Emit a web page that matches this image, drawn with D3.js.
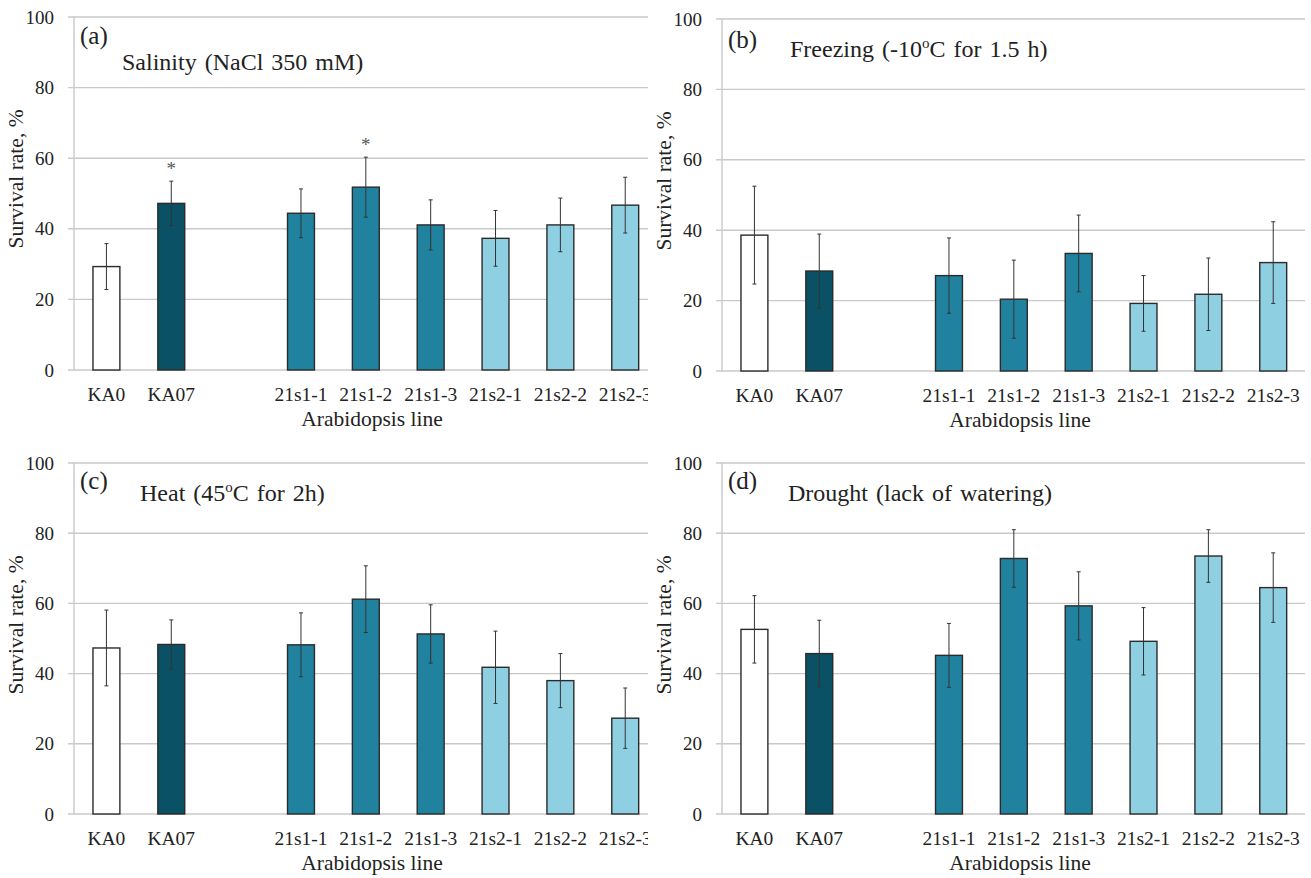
<!DOCTYPE html>
<html>
<head>
<meta charset="utf-8">
<script src="https://cdnjs.cloudflare.com/ajax/libs/d3/7.8.5/d3.min.js"></script>
<style>
  body { margin: 0; background: #fff; }
  svg text { font-family: "Liberation Serif", "Times New Roman", serif; fill: #222; }
</style>
</head>
<body>
<svg id="chart" width="1311" height="878"></svg>
<script>
// x slots, the empty one makes the gap after the controls
var slots = ['KA0', 'KA07', 'gap', '21s1-1', '21s1-2', '21s1-3', '21s2-1', '21s2-2', '21s2-3'];
var lines = ['KA0', 'KA07', '21s1-1', '21s1-2', '21s1-3', '21s2-1', '21s2-2', '21s2-3'];
var lineGroup = ['ctrl', 'ka07', 's1', 's1', 's1', 's2', 's2', 's2'];
var yTicks = [0, 20, 40, 60, 80, 100];

var salinityMean = [29.3, 47.2, 44.4, 51.8, 41.1, 37.3, 41.1, 46.7];
var salinityErr  = [6.5, 6.3, 6.9, 8.5, 7.1, 7.9, 7.6, 7.9];
var salinitySig  = [false, true, false, true, false, false, false, false];

var freezingMean = [38.6, 28.4, 27.1, 20.4, 33.4, 19.2, 21.8, 30.8];
var freezingErr  = [13.9, 10.5, 10.7, 11.1, 10.9, 7.9, 10.3, 11.6];

var heatMean = [47.3, 48.3, 48.2, 61.2, 51.3, 41.8, 38.0, 27.3];
var heatErr  = [10.8, 7.0, 9.1, 9.5, 8.3, 10.3, 7.7, 8.6];

var droughtMean = [52.6, 45.7, 45.2, 72.8, 59.3, 49.2, 73.5, 64.5];
var droughtErr  = [9.6, 9.5, 9.1, 8.2, 9.7, 9.6, 7.5, 9.9];

var fillColor = { ctrl: '#ffffff', ka07: '#0b5166', s1: '#20829e', s2: '#8fcfe2' };

var gridColor = '#c9c9c9';
var slotWidth = 64.85;

var panels = [
  { tag: '(a)', title: ['Salinity (NaCl 350 mM)'], mean: salinityMean, err: salinityErr, sig: salinitySig,
    left: 74, top: 17, bottom: 370, right: 648, tagY: 44, titleX: 48, titleY: 70 },
  { tag: '(b)', title: ['Freezing (-10', 'o', 'C for 1.5 h)'], mean: freezingMean, err: freezingErr, sig: null,
    left: 722, top: 19, bottom: 371, right: 1305, tagY: 48, titleX: 68, titleY: 57 },
  { tag: '(c)', title: ['Heat (45', 'o', 'C for 2h)'], mean: heatMean, err: heatErr, sig: null,
    left: 74, top: 463, bottom: 814, right: 648, tagY: 489, titleX: 66, titleY: 501 },
  { tag: '(d)', title: ['Drought (lack of watering)'], mean: droughtMean, err: droughtErr, sig: null,
    left: 722, top: 463, bottom: 814, right: 1305, tagY: 489, titleX: 66, titleY: 501 }
];

var svg = d3.select('#chart');
var defs = svg.append('defs');

panels.forEach(function(p, pi) {
  var x = d3.scaleBand()
    .domain(slots)
    .range([p.left, p.left + slots.length * slotWidth])
    .paddingInner(0.585)
    .paddingOuter(0.2925);
  var y = d3.scaleLinear().domain([0, 100]).range([p.bottom, p.top]);

  defs.append('clipPath').attr('id', 'clip' + pi)
    .append('rect')
    .attr('x', p.left - 80).attr('y', p.top - 20)
    .attr('width', p.right - p.left + 80).attr('height', p.bottom - p.top + 110);

  var g = svg.append('g').attr('clip-path', 'url(#clip' + pi + ')');

  // gridlines
  g.selectAll('.grid').data(yTicks).enter().append('line')
    .attr('x1', p.left - 6).attr('x2', p.right)
    .attr('y1', function(d) { return y(d); })
    .attr('y2', function(d) { return y(d); })
    .style('stroke', gridColor).style('stroke-width', 1.4);

  g.append('line')
    .attr('x1', p.left).attr('x2', p.left)
    .attr('y1', y(100)).attr('y2', y(0))
    .style('stroke', gridColor).style('stroke-width', 1.4);

  // y tick labels
  g.selectAll('.ytick').data(yTicks).enter().append('text')
    .attr('x', p.left - 20)
    .attr('y', function(d) { return y(d); })
    .attr('dy', '0.35em')
    .attr('text-anchor', 'end')
    .style('font-size', '19px')
    .text(function(d) { return d; });

  // bars
  g.selectAll('.bar').data(lines).enter().append('rect')
    .attr('x', function(d) { return x(d); })
    .attr('width', x.bandwidth())
    .attr('y', function(d, i) { return y(p.mean[i]); })
    .attr('height', function(d, i) { return y(0) - y(p.mean[i]); })
    .style('fill', function(d, i) { return fillColor[lineGroup[i]]; })
    .style('stroke', '#2b2b2b')
    .style('stroke-width', 1.4);

  // error bars
  var eb = g.selectAll('.err').data(lines).enter().append('g')
    .attr('transform', function(d) { return 'translate(' + (x(d) + x.bandwidth() / 2) + ',0)'; });
  eb.append('line')
    .attr('y1', function(d, i) { return y(p.mean[i] + p.err[i]); })
    .attr('y2', function(d, i) { return y(p.mean[i] - p.err[i]); })
    .style('stroke', '#333').style('stroke-width', 1);
  eb.append('line')
    .attr('x1', -2).attr('x2', 2)
    .attr('y1', function(d, i) { return y(p.mean[i] + p.err[i]); })
    .attr('y2', function(d, i) { return y(p.mean[i] + p.err[i]); })
    .style('stroke', '#333').style('stroke-width', 1);
  eb.append('line')
    .attr('x1', -2).attr('x2', 2)
    .attr('y1', function(d, i) { return y(p.mean[i] - p.err[i]); })
    .attr('y2', function(d, i) { return y(p.mean[i] - p.err[i]); })
    .style('stroke', '#333').style('stroke-width', 1);

  if (p.sig) {
    eb.filter(function(d, i) { return p.sig[i]; })
      .append('text')
      .attr('y', function(d) { var i = lines.indexOf(d); return y(p.mean[i] + p.err[i]) - 6; })
      .attr('text-anchor', 'middle')
      .style('font-size', '19px')
      .style('fill', '#555')
      .text('*');
  }

  // x labels
  g.selectAll('.xlab').data(lines).enter().append('text')
    .attr('x', function(d) { return x(d) + x.bandwidth() / 2; })
    .attr('y', p.bottom + 31)
    .attr('text-anchor', 'middle')
    .style('font-size', '19.5px')
    .text(function(d) { return d; });

  g.append('text')
    .attr('x', p.left + 298)
    .attr('y', p.bottom + 56)
    .attr('text-anchor', 'middle')
    .style('font-size', '21.5px')
    .text('Arabidopsis line');

  g.append('text')
    .attr('transform', 'translate(' + (p.left - 51) + ',' + (p.top + 162) + ')rotate(-90)')
    .attr('text-anchor', 'middle')
    .style('font-size', '21.5px')
    .text('Survival rate, %');

  // panel tag and title
  g.append('text')
    .attr('x', p.left + 6).attr('y', p.tagY)
    .style('font-size', '25px')
    .text(p.tag);

  var t = g.append('text')
    .attr('x', p.left + p.titleX).attr('y', p.titleY)
    .style('font-size', '24px')
    .style('word-spacing', '2px');
  t.append('tspan').text(p.title[0]);
  if (p.title.length > 1) {
    t.append('tspan').attr('dy', -9).style('font-size', '15px').text(p.title[1]);
    t.append('tspan').attr('dy', 9).text(p.title[2]);
  }
});
</script>
</body>
</html>
